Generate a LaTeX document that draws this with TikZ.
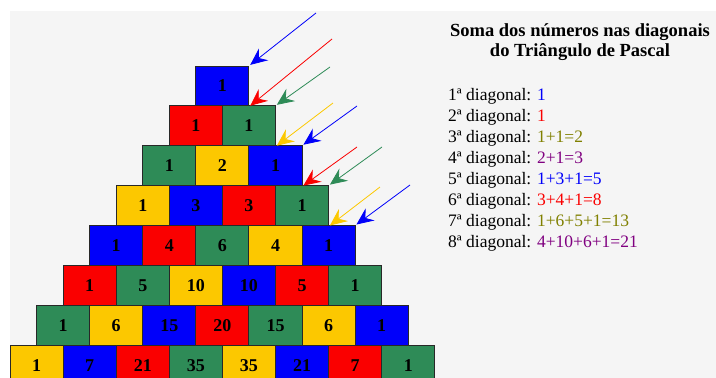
\documentclass[tikz,border=0pt]{standalone}
\usepackage{fontspec}
\setmainfont{Liberation Serif}
\usetikzlibrary{arrows.meta,positioning,calc}
\definecolor{PageBg}{RGB}{245,245,245}
\definecolor{CellBlue}{RGB}{0,0,250}
\definecolor{CellRed}{RGB}{250,0,0}
\definecolor{CellGreen}{RGB}{46,139,87}
\definecolor{CellYellow}{RGB}{252,200,0}
\definecolor{Edge}{RGB}{40,40,40}
\definecolor{Olive}{RGB}{128,128,0}
\definecolor{Plum}{RGB}{128,0,128}
\colorlet{cell0}{CellBlue}
\colorlet{cell1}{CellRed}
\colorlet{cell2}{CellGreen}
\colorlet{cell3}{CellYellow}
\tikzset{
  cell/.style={rectangle,draw=Edge,line width=1pt,minimum width=53.1pt,
               minimum height=39.9pt,inner sep=0pt,
               font=\fontsize{18}{18}\selectfont\bfseries},
  title/.style={align=center,font=\fontsize{18.5}{20}\selectfont\bfseries},
  diag/.style={anchor=west,inner sep=0pt,font=\fontsize{17.5}{20}\selectfont},
  darrow/.style={-{Stealth[length=17pt,width=15pt,inset=6pt]},line width=0.8pt,
                 shorten >=1pt},
}

\begin{document}
\begin{tikzpicture}[x=1pt,y=-1pt]
    \useasboundingbox (0,0) rectangle (716,378);
    \fill[white] (0,0) rectangle (716,378);
    \fill[PageBg] (10,11) rectangle (716,378);
    \foreach \r [count=\n] in {{1},{1,1},{1,2,1},{1,3,3,1},{1,4,6,4,1},
        {1,5,10,10,5,1},{1,6,15,20,15,6,1},{1,7,21,35,35,21,7,1}} {
      \foreach \v [count=\k] in \r {
        \pgfmathtruncatemacro\ci{mod(\n+\k-2,4)}
        \node[cell,fill=cell\ci] (c-\n-\k)
          at ({10+(8-\n)*26.55+(\k-1)*53.1+26.55},{66+(\n-1)*39.9+19.95}) {\v};
      }
    }
    \foreach \sx/\sy/\tgt/\col [count=\i] in {
        316/13/c-1-1.north east/CellBlue,
        332/39/c-1-1.south east/CellRed,
        330/67/c-2-2.north east/CellGreen,
        333/103/c-2-2.south east/CellYellow,
        357/106/c-3-3.north east/CellBlue,
        357/147/c-3-3.south east/CellRed,
        382/147/c-4-4.north east/CellGreen,
        380/187/c-4-4.south east/CellYellow,
        410/185/c-5-5.north east/CellBlue} {
      \coordinate (s\i) at (\sx,\sy);
      \draw[darrow,\col] (s\i) -- (\tgt);
    }
    \node[title] (head) at (580,42) {Soma dos números nas diagonais\\do Triângulo de Pascal};
    \node[diag] (d1) at (448,96.0) {1ª diagonal: \textcolor{CellBlue}{1}};
    \node[diag] (d2) at (448,117.1) {2ª diagonal: \textcolor{CellRed}{1}};
    \node[diag] (d3) at (448,138.2) {3ª diagonal: \textcolor{Olive}{1+1=2}};
    \node[diag] (d4) at (448,159.3) {4ª diagonal: \textcolor{Plum}{2+1=3}};
    \node[diag] (d5) at (448,180.4) {5ª diagonal: \textcolor{CellBlue}{1+3+1=5}};
    \node[diag] (d6) at (448,201.5) {6ª diagonal: \textcolor{CellRed}{3+4+1=8}};
    \node[diag] (d7) at (448,222.6) {7ª diagonal: \textcolor{Olive}{1+6+5+1=13}};
    \node[diag] (d8) at (448,243.7) {8ª diagonal: \textcolor{Plum}{4+10+6+1=21}};
\end{tikzpicture}
\end{document}
